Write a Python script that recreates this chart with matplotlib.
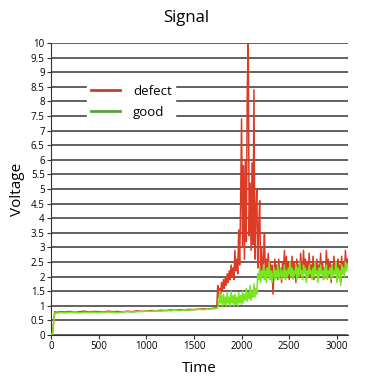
import matplotlib
matplotlib.use("Agg")
import matplotlib.pyplot as plt
from matplotlib.lines import Line2D

plt.rcParams["font.family"] = ["Open Sans", "DejaVu Sans"]

# start-up and slow ramp (sparse samples)
time_early = [0, 15, 30, 40, 60, 100, 150, 200, 250, 300, 350, 400, 450, 500,
              550, 600, 650, 700, 750, 800, 850, 900, 950, 1000, 1050, 1100,
              1150, 1200, 1250, 1300, 1350, 1400, 1450, 1500, 1550, 1600,
              1650, 1700, 1730]
defect_early = [0.0, 0.05, 0.5, 0.8, 0.78, 0.8, 0.79, 0.81, 0.78, 0.8, 0.82,
                0.79, 0.81, 0.8, 0.79, 0.82, 0.8, 0.81, 0.79, 0.82, 0.8, 0.83,
                0.81, 0.82, 0.84, 0.83, 0.85, 0.84, 0.86, 0.85, 0.87, 0.86,
                0.88, 0.87, 0.89, 0.9, 0.89, 0.92, 0.93]
good_early = [0.0, 0.03, 0.45, 0.76, 0.75, 0.77, 0.76, 0.78, 0.77, 0.76, 0.78,
              0.77, 0.78, 0.77, 0.78, 0.79, 0.78, 0.77, 0.79, 0.8, 0.79, 0.8,
              0.81, 0.82, 0.81, 0.83, 0.82, 0.84, 0.83, 0.85, 0.84, 0.86,
              0.85, 0.87, 0.88, 0.87, 0.89, 0.9, 0.91]

# dense samples from 1740 to 3110, every 10 time units (10 per row)
time_late = list(range(1740, 3120, 10))
defect_late = [
    0.95, 1.7, 1.3, 1.6, 1.4, 1.8, 1.5, 1.9, 1.6, 2.0,          # 1740-1830
    1.7, 2.1, 1.8, 2.2, 1.9, 2.4, 2.0, 2.3, 1.9, 2.9,           # 1840-1930
    2.2, 2.6, 2.1, 3.6, 2.4, 4.5, 7.4, 3.0, 5.8, 2.6,           # 1940-2030
    6.0, 3.2, 8.4, 10.0, 3.4, 5.2, 2.9, 5.9, 3.1, 8.4,          # 2040-2130
    2.6, 4.2, 5.0, 2.3, 3.7, 4.6, 2.2, 3.0, 2.1, 2.6,           # 2140-2230
    3.5, 2.0, 2.6, 2.2, 2.8, 2.1, 2.5, 1.9, 2.4, 1.4,           # 2240-2330
    2.2, 2.6, 2.0, 2.4, 1.9, 2.6, 2.1, 2.3, 1.8, 2.5,           # 2340-2430
    2.2, 2.9, 2.0, 2.7, 2.1, 2.5, 1.9, 2.4, 2.2, 2.7,           # 2440-2530
    2.0, 2.5, 2.3, 1.8, 2.6, 2.1, 2.4, 2.0, 2.8, 2.3,           # 2540-2630
    2.1, 2.9, 2.2, 2.6, 1.9, 2.5, 2.1, 2.8, 2.0, 2.4,           # 2640-2730
    2.2, 2.7, 1.9, 2.5, 2.1, 2.6, 2.0, 2.4, 2.2, 2.8,           # 2740-2830
    2.1, 2.5, 1.9, 2.3, 2.1, 2.9, 2.2, 2.6, 2.0, 2.5,           # 2840-2930
    1.8, 2.4, 2.2, 2.7, 2.1, 2.5, 1.9, 2.6, 2.2, 2.4,           # 2940-3030
    1.8, 2.7, 2.1, 2.5, 2.2, 2.9, 2.3, 2.6,                     # 3040-3110
]
good_late = [
    0.92, 0.95, 1.0, 1.5, 1.1, 1.35, 1.0, 1.4, 1.05, 1.3,       # 1740-1830
    1.0, 1.45, 1.1, 1.3, 1.0, 1.5, 1.1, 1.35, 1.0, 1.4,         # 1840-1930
    1.05, 1.3, 1.0, 1.45, 1.1, 1.35, 1.05, 1.5, 1.1, 1.4,       # 1940-2030
    1.2, 1.6, 1.15, 1.45, 1.25, 1.7, 1.2, 1.5, 1.3, 1.75,       # 2040-2130
    1.3, 1.6, 1.4, 2.1, 1.9, 2.3, 1.8, 2.2, 2.0, 2.4,           # 2140-2230
    1.9, 2.2, 1.8, 2.3, 2.0, 2.5, 1.9, 2.2, 1.8, 2.1,           # 2240-2330
    2.3, 1.9, 2.2, 2.0, 2.4, 1.9, 2.1, 2.3, 1.9, 2.2,           # 2340-2430
    2.0, 2.4, 1.9, 2.2, 2.0, 2.3, 2.1, 2.5, 2.0, 2.3,           # 2440-2530
    1.9, 2.2, 2.1, 2.4, 1.9, 2.3, 2.0, 2.5, 2.1, 2.2,           # 2540-2630
    1.9, 2.4, 2.1, 2.3, 1.8, 2.2, 2.0, 2.4, 2.1, 2.2,           # 2640-2730
    1.9, 2.3, 2.0, 2.5, 2.1, 2.2, 1.8, 2.3, 2.0, 2.4,           # 2740-2830
    2.1, 2.2, 1.9, 2.3, 2.0, 2.4, 1.9, 2.2, 2.1, 2.3,           # 2840-2930
    1.9, 2.4, 2.0, 2.2, 2.1, 2.5, 1.8, 2.3, 2.0, 2.2,           # 2940-3030
    1.7, 2.4, 2.1, 2.3, 2.0, 2.5, 2.2, 2.4,                     # 3040-3110
]

y_ticks = [i * 0.5 for i in range(21)]
y_tick_labels = ["0", "0.5", "1", "1.5", "2", "2.5", "3", "3.5", "4", "4.5",
                 "5", "5.5", "6", "6.5", "7", "7.5", "8", "8.5", "9", "9.5", "10"]
x_ticks = [0, 500, 1000, 1500, 2000, 2500, 3000]

n_late = min(len(time_late), len(defect_late), len(good_late))
time = time_early + time_late[:n_late]
defect = defect_early + defect_late[:n_late]
good = good_early + good_late[:n_late]

fig = plt.figure(figsize=(3.72, 3.91), dpi=100)
ax = fig.add_axes([0.137, 0.143, 0.798, 0.747])

for y in y_ticks:
    ax.axhline(y, color="#555555", lw=1.3, zorder=1)

ax.plot(time, defect, color="#dc3b25", lw=1.1, zorder=3)
ax.plot(time, good, color="#78e61c", lw=1.1, zorder=4)

ax.set_xlim(0, 3115)
ax.set_ylim(0, 10)
ax.set_yticks(y_ticks)
ax.set_yticklabels(y_tick_labels)
ax.set_xticks(x_ticks)
ax.tick_params(axis="both", labelsize=7, color="#333333", length=3, pad=1.5)

for side in ["top", "right"]:
    ax.spines[side].set_visible(False)
ax.spines["left"].set_color("#333333")
ax.spines["bottom"].set_color("#333333")

handles = [Line2D([], [], color="#c8402f", lw=2),
           Line2D([], [], color="#5aa03c", lw=2)]
leg = ax.legend(handles, ["defect", "good"], loc="upper left",
                bbox_to_anchor=(0.12, 0.87), frameon=True, fontsize=9.5,
                handlelength=2.2, handletextpad=1.0, labelspacing=0.6,
                borderpad=0.3, borderaxespad=0)
leg.get_frame().set_facecolor("white")
leg.get_frame().set_edgecolor("white")
leg.get_frame().set_alpha(1)
leg.set_zorder(5)

fig.text(0.5, 0.955, "Signal", ha="center", va="center", fontsize=12)
ax.set_xlabel("Time", fontsize=11, labelpad=6)
ax.set_ylabel("Voltage", fontsize=11, labelpad=4)

fig.savefig("out.png", dpi=100)
plt.close()
